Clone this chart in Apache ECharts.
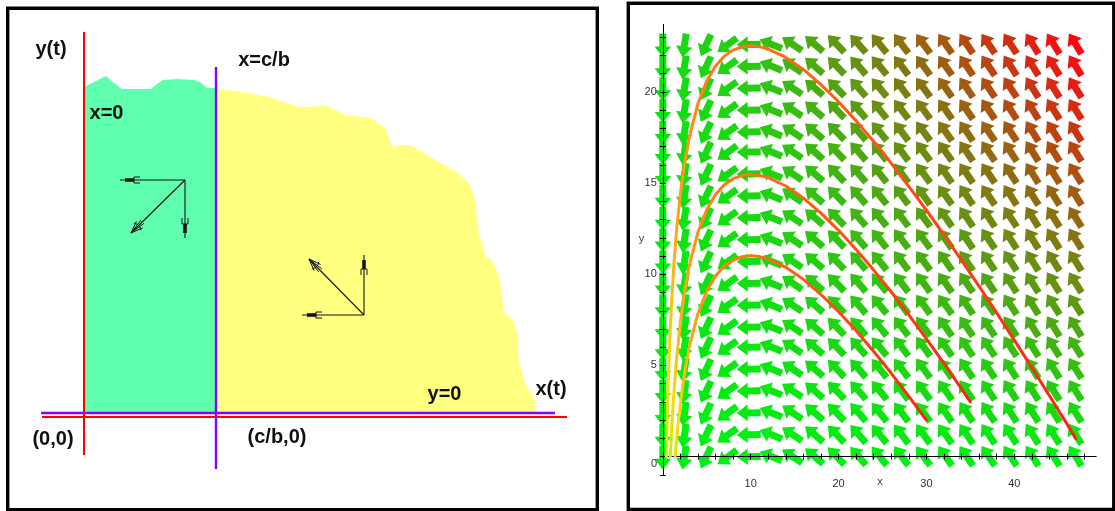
<!DOCTYPE html>
<html>
<head>
<meta charset="utf-8">
<script src="https://cdn.jsdelivr.net/npm/echarts@6/dist/echarts.min.js"></script>
<style>
html,body{margin:0;padding:0;background:#ffffff;}
#c{width:1115px;height:511px;}
</style>
</head>
<body>
<div id="c"></div>
<script>
// ================= LEFT PANEL: schematic phase plane (1 unit ~ 1 px, origin at (0,0)) =================
const schemGreenTop = [[0,326],[8,330],[22,337],[30,330],[38,324],[67,324],[73,329],[79,333],[93,334],[110,333],[116,331],[123,325],[132,325]];
const schemYellowTop = [[132,324],[160,321],[185,316],[200,311],[216,306],[243,307],[262,298],[287,295],[301,285],[308,266],[316,268],[327,268],[351,253],[374,240],[385,230],[391,213],[395,180],[402,156],[408,153],[416,133],[420,100],[429,93],[433,80],[435,50],[441,30],[451,13],[452,0]];
const schemRedV = [[0,-42],[0,381]];
const schemRedH = [[-42,-4],[483,-4]];
const schemPurpleV = [[132,-56],[132,346]];
const schemPurpleH = [[-43,0],[471,0]];
// arrows: [fromX, fromY, toX, toY]
const schemArrows = [[101,233,36,233],[101,233,101,175],[101,233,47,180],[280,98,280,158],[280,98,218,98],[280,98,225,154]];
const schemLabelText = ['y(t)','x=c/b','x=0','x(t)','y=0','(0,0)','(c/b,0)'];

// ================= RIGHT PANEL: direction field + trajectories =================
const fieldX = [0,2.47,4.95,7.42,9.89,12.4,14.8,17.3,19.8,22.3,24.7,27.2,29.7,32.2,34.6,37.1,39.6,42.1,44.5,47.0];
const fieldY = [22.6,21.4,20.2,19.0,17.8,16.7,15.5,14.3,13.1,11.9,10.7,9.5,8.3,7.1,6.0,4.8,3.6,2.4,1.2,0];
// on-screen arrow direction per column (degrees, counter-clockwise from +x)
const fieldAngle = [270,261,245,216,181,158,146,139,134,131,129,127,126,125,124,124,123,122,122,122];
// arrow colour level per cell (0 = green, 100 = red), rows top -> bottom
const fieldShade = [
 [7,9,12,13,17,21,26,31,37,43,48,54,60,65,71,77,83,89,94,100],
 [7,9,11,12,16,20,25,30,35,40,46,51,56,62,67,73,78,84,89,95],
 [6,8,11,12,15,19,23,28,33,38,43,48,53,59,64,69,74,79,84,90],
 [6,8,10,11,14,18,22,26,31,36,41,45,50,55,60,65,70,75,79,84],
 [6,7,9,10,13,17,21,25,29,34,38,43,47,52,56,61,65,70,74,79],
 [5,7,9,10,12,15,19,23,27,31,36,40,44,48,52,57,61,65,69,74],
 [5,6,8,9,11,14,18,21,25,29,33,37,41,45,49,53,56,61,64,68],
 [4,6,8,8,10,13,16,20,23,27,30,34,38,41,45,49,52,56,59,63],
 [4,5,7,8,10,12,15,18,21,25,28,31,34,38,41,45,48,51,54,58],
 [4,5,6,7,9,11,14,17,19,22,25,28,31,34,37,40,43,47,49,53],
 [3,4,6,6,8,10,12,15,18,20,23,26,28,31,34,36,39,42,45,47],
 [3,4,5,5,7,9,11,13,16,18,20,23,25,28,30,32,35,37,40,42],
 [3,3,4,5,6,8,10,12,14,16,18,20,22,24,26,28,30,33,35,37],
 [2,3,4,4,5,7,8,10,12,13,15,17,19,21,22,24,26,28,30,32],
 [2,2,3,3,4,6,7,8,10,11,13,14,16,17,19,20,22,23,25,26],
 [1,2,3,3,3,4,5,7,8,9,10,11,13,14,15,16,17,19,20,21],
 [1,1,2,2,3,3,4,5,6,7,8,8,9,10,11,12,13,14,15,16],
 [1,1,1,1,2,2,3,3,4,4,5,6,6,7,7,8,9,9,10,11],
 [0,0,1,1,1,1,1,2,2,2,3,3,3,3,4,4,4,5,5,5],
 [0,0,0,0,0,0,0,0,0,0,0,0,0,0,0,0,0,0,0,0]
];
const trajA = [[1.41,0],[1.5,0.54],[1.7,1.6],[2,2.92],[2.5,4.65],[3,5.98],[4,7.85],[5,9.08],[6,9.91],[7,10.45],[8,10.78],[9,10.96],[10,11.02],[11,10.97],[12,10.84],[14,10.38],[16,9.72],[18,8.89],[20,7.95],[22,6.9],[24,5.77],[26,4.57],[28,3.31],[30,2.0]];
const trajB = [[0.85,0],[0.9,0.5],[1,1.45],[1.2,3.07],[1.5,5.0],[2,7.38],[2.5,9.11],[3,10.44],[4,12.31],[5,13.54],[6,14.37],[7,14.91],[8,15.24],[9,15.42],[10,15.48],[11,15.42],[12,15.3],[14,14.84],[16,14.18],[18,13.35],[20,12.41],[22,11.36],[24,10.23],[26,9.03],[28,7.77],[30,6.46],[32,5.11],[34,3.71],[35,3.0]];
const trajC = [[0.4,0],[0.45,1.06],[0.5,2.07],[0.6,3.79],[0.7,5.23],[0.8,6.47],[1,8.5],[1.3,10.82],[1.6,12.6],[2,14.43],[2.5,16.16],[3,17.49],[4,19.36],[5,20.59],[6,21.42],[7,21.96],[8,22.29],[9,22.47],[10,22.53],[11,22.48],[12,22.35],[14,21.89],[16,21.23],[18,20.4],[20,19.46],[22,18.41],[24,17.28],[26,16.08],[28,14.82],[30,13.51],[32,12.16],[34,10.76],[36,9.34],[38,7.88],[40,6.39],[42,4.88],[44,3.34],[46,1.79],[47,1.0]];
const xTicks = [2,4,6,8,10,12,14,16,18,20,22,24,26,28,30,32,34,36,38,40,42,44,46,48];
const xLabels = [10,20,30,40];
const yTicks = [-1,0,1,2,3,4,5,6,7,8,9,10,11,12,13,14,15,16,17,18,19,20,21,22,23];
const yLabels = [5,10,15,20];

// ================= rendering =================
const FONT = 'Liberation Sans, Arial, sans-serif';
const chart = echarts.init(document.getElementById('c'), null, {renderer: 'canvas'});

const ARROW = [[-11,-3.5],[2,-3.5],[2,-8.3],[13,0],[2,8.3],[2,3.5],[-11,3.5]];
function shadeColor(s) {
  const t = Math.max(0, Math.min(1, s / 100));
  return 'rgb(' + Math.round(255 * t) + ',' + Math.round(240 * (1 - t) + 5 * t) + ',18)';
}
function fieldItem(params, api) {
  const c = api.coord([api.value(0), api.value(1)]);
  const a = api.value(2) * Math.PI / 180;
  const ux = Math.cos(a), uy = -Math.sin(a);
  const nx = -uy, ny = ux;
  const pts = ARROW.map(p => [c[0] + p[0] * ux + p[1] * nx, c[1] + p[0] * uy + p[1] * ny]);
  return {type: 'polygon', shape: {points: pts}, style: {fill: shadeColor(api.value(3))}};
}
function schemArrowItem(params, api) {
  const p0 = api.coord([api.value(0), api.value(1)]);
  const p1 = api.coord([api.value(2), api.value(3)]);
  const dx = p1[0] - p0[0], dy = p1[1] - p0[1];
  const len = Math.hypot(dx, dy);
  const ux = dx / len, uy = dy / len, nx = -uy, ny = ux;
  const at = (d, o) => [p1[0] - ux * d + nx * o, p1[1] - uy * d + ny * o];
  const seg = (a, b, w) => ({type: 'line', shape: {x1: a[0], y1: a[1], x2: b[0], y2: b[1]}, style: {stroke: '#141414', lineWidth: w}});
  const kids = [seg(p0, p1, 1.1)];
  const diagonal = Math.abs(ux) > 0.25 && Math.abs(uy) > 0.25;
  if (!diagonal) {
    kids.push(seg(at(5, 0), at(14, 0), 3.6));
    kids.push(seg(at(14, -3), at(14, 3), 1));
    kids.push(seg(at(14, -3), at(20, -3), 1));
    kids.push(seg(at(14, 3), at(20, 3), 1));
  } else {
    const tip = at(0, 0);
    kids.push(seg(tip, at(16, -2.2), 1));
    kids.push(seg(tip, at(16, 2.2), 1));
    kids.push(seg(tip, at(12, -4.5), 1));
    kids.push(seg(tip, at(12, 4.5), 1));
    kids.push(seg(at(9, -5), at(11, -1), 1));
    kids.push(seg(at(9, 5), at(11, 1), 1));
  }
  return {type: 'group', children: kids};
}

const fieldData = [];
fieldY.forEach((y, r) => fieldX.forEach((x, c) => fieldData.push([x, y, fieldAngle[c], fieldShade[r][c]])));

function peakIndex(t) { let k = 0; t.forEach((p, i) => { if (p[1] > t[k][1]) k = i; }); return k; }
const leftGrad = () => new echarts.graphic.LinearGradient(0, 0, 0, 1, [
  {offset: 0, color: '#ff7416'}, {offset: 0.45, color: '#ffa81a'}, {offset: 0.8, color: '#f6dc06'}, {offset: 1, color: '#c8f000'}]);
const rightGrad = () => new echarts.graphic.LinearGradient(0, 0, 1, 0, [
  {offset: 0, color: '#ff7216'}, {offset: 0.5, color: '#ff4a16'}, {offset: 1, color: '#ff1e12'}]);

const trajSeries = [];
[trajA, trajB, trajC].forEach(t => {
  const k = peakIndex(t);
  [[t.slice(0, k + 1), leftGrad()], [t.slice(k), rightGrad()]].forEach(([d, col]) => {
    trajSeries.push({type: 'line', xAxisIndex: 1, yAxisIndex: 1, data: d, showSymbol: false, symbol: 'none',
      smooth: false, z: 12, silent: true,
      lineStyle: {color: col, width: 3, cap: 'round', join: 'round'}});
  });
});

function lineSeries(data, color, width) {
  return {type: 'line', xAxisIndex: 0, yAxisIndex: 0, data: data, showSymbol: false, symbol: 'none', z: 4, silent: true,
    lineStyle: {color: color, width: width}};
}
function areaSeries(data, color) {
  return {type: 'line', xAxisIndex: 0, yAxisIndex: 0, data: data, showSymbol: false, symbol: 'none', z: 1, silent: true,
    lineStyle: {width: 0}, areaStyle: {color: color, opacity: 1, origin: 0}};
}

const labelPos = [[51,49],[264,60],[106.5,113],[551,389],[444.5,394.5],[53,439],[277,437]];
const graphics = [
  {type: 'rect', shape: {x: 7.7, y: 8.3, width: 589.6, height: 501.4}, style: {fill: 'none', stroke: '#000', lineWidth: 3.4}, z: 100},
  {type: 'rect', shape: {x: 628.3, y: 3.3, width: 485.5, height: 506.2}, style: {fill: 'none', stroke: '#000', lineWidth: 3.4}, z: 100}
];
schemLabelText.forEach((t, i) => graphics.push({type: 'text', x: labelPos[i][0], y: labelPos[i][1], z: 100,
  style: {text: t, fill: '#111', font: 'bold 20px ' + FONT, align: 'center', verticalAlign: 'middle'}}));
graphics.push({type: 'text', x: 654, y: 463.5, z: 100, style: {text: '0', fill: '#333', font: '11px ' + FONT, align: 'center', verticalAlign: 'middle'}});
graphics.push({type: 'text', x: 880, y: 481.5, z: 100, style: {text: 'x', fill: '#444', font: '11px ' + FONT, align: 'center', verticalAlign: 'middle'}});
graphics.push({type: 'text', x: 641.5, y: 239, z: 100, style: {text: 'y', fill: '#444', font: '11px ' + FONT, align: 'center', verticalAlign: 'middle'}});

const axLine = {color: '#000', width: 1};
const option = {
  animation: false,
  backgroundColor: '#ffffff',
  grid: [
    {left: 8, top: 8, width: 590, height: 501, show: false},
    {left: 662.8, top: 24.4, width: 433.2, height: 450.5, show: false}
  ],
  xAxis: [
    {gridIndex: 0, type: 'value', min: -76, max: 514, show: false},
    {gridIndex: 1, type: 'value', min: 0, max: 49.3, position: 'bottom', z: 10,
      axisLine: {show: true, onZero: true, onZeroAxisIndex: 1, lineStyle: axLine},
      axisTick: {show: true, inside: false, length: 3, customValues: xTicks, lineStyle: axLine},
      axisLabel: {show: true, customValues: xLabels, margin: 4, fontSize: 11, color: '#333', fontFamily: FONT},
      splitLine: {show: false}},
    {gridIndex: 1, type: 'value', min: 0, max: 49.3, position: 'bottom', z: 10,
      axisLine: {show: true, onZero: true, onZeroAxisIndex: 1, lineStyle: axLine},
      axisTick: {show: true, inside: true, length: 3, customValues: xTicks, lineStyle: axLine},
      axisLabel: {show: false}, splitLine: {show: false}}
  ],
  yAxis: [
    {gridIndex: 0, type: 'value', min: -96, max: 405, show: false},
    {gridIndex: 1, type: 'value', min: -1, max: 23.7, position: 'left', z: 10,
      axisLine: {show: true, onZero: true, onZeroAxisIndex: 1, lineStyle: axLine},
      axisTick: {show: true, inside: false, length: 3, customValues: yTicks, lineStyle: axLine},
      axisLabel: {show: true, customValues: yLabels, margin: 6, fontSize: 11, color: '#333', fontFamily: FONT},
      splitLine: {show: false}},
    {gridIndex: 1, type: 'value', min: -1, max: 23.7, position: 'left', z: 10,
      axisLine: {show: true, onZero: true, onZeroAxisIndex: 1, lineStyle: axLine},
      axisTick: {show: true, inside: true, length: 3, customValues: yTicks, lineStyle: axLine},
      axisLabel: {show: false}, splitLine: {show: false}}
  ],
  graphic: graphics,
  series: [
    areaSeries(schemGreenTop, '#5fffad'),
    areaSeries(schemYellowTop, '#ffff80'),
    lineSeries(schemPurpleH, '#8800ff', 2.6),
    lineSeries(schemRedH, '#ff0000', 2.2),
    lineSeries(schemRedV, '#ff0000', 2),
    lineSeries(schemPurpleV, '#8800ff', 2.4),
    {type: 'custom', xAxisIndex: 0, yAxisIndex: 0, data: schemArrows, renderItem: schemArrowItem, z: 5, silent: true},
    {type: 'custom', xAxisIndex: 1, yAxisIndex: 1, data: fieldData, renderItem: fieldItem, z: 2, silent: true}
  ].concat(trajSeries)
};
chart.setOption(option);
</script>
</body>
</html>
